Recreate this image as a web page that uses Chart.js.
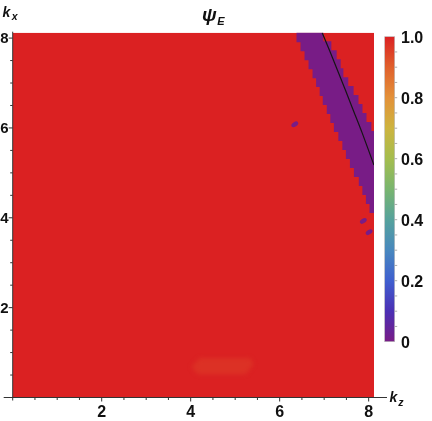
<!DOCTYPE html>
<html>
<head>
<meta charset="utf-8">
<script src="https://cdn.jsdelivr.net/npm/chart.js@4.4.1/dist/chart.umd.min.js"></script>
<style>
  html, body { margin: 0; padding: 0; background: #fff; }
  #wrap { width: 432px; height: 421px; }
</style>
</head>
<body>
<div id="wrap"><canvas id="psiChart" width="432" height="421"></canvas></div>
<script>
// rows of the kx grid (row centres, 0.2 wide) where psi_E drops to ~0
const bandKx = [8.02, 7.82, 7.62, 7.42, 7.22, 7.02, 6.82, 6.62, 6.42, 6.22,
                6.02, 5.82, 5.62, 5.42, 5.22, 5.02, 4.82, 4.62, 4.42, 4.22];
const bandKzFrom = [6.39, 6.48, 6.57, 6.66, 6.75, 6.83, 6.91, 6.98, 7.07, 7.15,
                    7.23, 7.33, 7.42, 7.50, 7.59, 7.68, 7.79, 7.87, 7.95, 8.03];
const bandKzTo = [6.97, 7.15, 7.27, 7.36, 7.42, 7.53, 7.65, 7.76, 7.85, 7.94,
                  8.05, 8.2, 8.2, 8.2, 8.2, 8.2, 8.2, 8.2, 8.2, 8.2];
const bandValue = 0;

// isolated spots with psi_E ~ 0
const spotKz = [6.34, 7.88, 8.01];
const spotKx = [6.08, 3.93, 3.68];

// faint patch a little below 1
const patchKz = [4.02, 5.42];
const patchKx = [0.52, 0.88];
const patchValue = 0.975;

// everything else
const fieldValue = 1;

// black curve
const curveKz = [6.955, 7.119, 7.299, 7.479, 7.636, 7.856, 8.119];
const curveKx = [8.12, 7.731, 7.286, 6.841, 6.440, 5.884, 5.173];

const axisMax = 8.12;
const axisTicks = [2, 4, 6, 8];
const minorStep = 0.5;

const barTicks = [0, 0.2, 0.4, 0.6, 0.8, 1.0];
const barTickLabels = ['0', '0.2', '0.4', '0.6', '0.8', '1.0'];
const barMinorStep = 0.05;

const rainbowAt = [0, 0.1, 0.2, 0.3, 0.4, 0.5, 0.6, 0.7, 0.8, 0.9, 1];
const rainbowHex = ['#781c86', '#4b2fb4', '#3f5fcf', '#4888be', '#56a29c', '#79b56f',
                    '#a4bd4e', '#cdb43f', '#e39139', '#e0602c', '#db2122'];

const hexRgb = h => [1, 3, 5].map(i => parseInt(h.slice(i, i + 2), 16));
const colorFor = v => {
  let i = 0;
  while (i < rainbowAt.length - 2 && v > rainbowAt[i + 1]) i++;
  const t = (v - rainbowAt[i]) / (rainbowAt[i + 1] - rainbowAt[i]);
  const a = hexRgb(rainbowHex[i]), b = hexRgb(rainbowHex[i + 1]);
  const c = a.map((x, k) => Math.round(x + (b[k] - x) * t));
  return `rgb(${c[0]},${c[1]},${c[2]})`;
};

const numFont = 'bold 16px "Liberation Sans", Arial, sans-serif';
const yNumFont = 'bold 15px "Liberation Sans", Arial, sans-serif';

const fieldPlugin = {
  id: 'field',
  beforeDatasetsDraw(chart) {
    const { ctx, chartArea } = chart;
    const { x, y } = chart.scales;
    ctx.save();
    ctx.beginPath();
    ctx.rect(chartArea.left, chartArea.top, chartArea.right - chartArea.left, chartArea.bottom - chartArea.top);
    ctx.clip();
    ctx.fillStyle = colorFor(fieldValue);
    ctx.fillRect(x.getPixelForValue(0), y.getPixelForValue(axisMax),
      x.getPixelForValue(axisMax) - x.getPixelForValue(0), y.getPixelForValue(0) - y.getPixelForValue(axisMax));

    // faint patch
    ctx.filter = 'blur(2px)';
    ctx.fillStyle = colorFor(patchValue);
    const px0 = x.getPixelForValue(patchKz[0]), px1 = x.getPixelForValue(patchKz[1]);
    const py0 = y.getPixelForValue(patchKx[1]), py1 = y.getPixelForValue(patchKx[0]);
    ctx.beginPath();
    ctx.moveTo(px0 + 8, py0);
    ctx.lineTo(px1 - 4, py0);
    ctx.lineTo(px1, py0 + 6);
    ctx.lineTo(px1 - 8, py1);
    ctx.lineTo(px0 + 6, py1);
    ctx.lineTo(px0, py0 + 9);
    ctx.closePath();
    ctx.fill();
    ctx.filter = 'none';

    // isolated spots
    ctx.fillStyle = colorFor(bandValue);
    spotKz.forEach((kz, i) => {
      ctx.beginPath();
      ctx.ellipse(x.getPixelForValue(kz), y.getPixelForValue(spotKx[i]), 3.8, 2.2, -0.6, 0, Math.PI * 2);
      ctx.fill();
    });
    ctx.restore();
  },
  afterDraw(chart) {
    const { ctx, chartArea } = chart;
    const { x, y } = chart.scales;
    const x0 = x.getPixelForValue(0), y0 = y.getPixelForValue(0);
    ctx.save();

    // axes
    ctx.strokeStyle = '#333';
    ctx.lineWidth = 1;
    ctx.beginPath();
    ctx.moveTo(x0 - 9, y0);
    ctx.lineTo(chartArea.right + 13, y0);
    ctx.moveTo(x0, chartArea.top - 1);
    ctx.lineTo(x0, y0 + 3);
    for (let v = minorStep; v <= axisMax; v += minorStep) {
      const major = axisTicks.includes(v);
      const len = major ? 4 : 2.5;
      const px = x.getPixelForValue(v), py = y.getPixelForValue(v);
      ctx.moveTo(px, y0);
      ctx.lineTo(px, y0 + len);
      ctx.moveTo(x0, py);
      ctx.lineTo(x0 - len, py);
    }
    ctx.stroke();

    ctx.fillStyle = '#111';
    ctx.font = numFont;
    ctx.textBaseline = 'alphabetic';
    x.ticks.forEach(t => {
      ctx.textAlign = 'center';
      ctx.fillText(String(t.value), x.getPixelForValue(t.value), y0 + 19.5);
    });
    ctx.font = yNumFont;
    y.ticks.forEach(t => {
      ctx.textAlign = 'right';
      ctx.fillText(String(t.value), x0 - 4, y.getPixelForValue(t.value) + 5.4);
    });

    // axis names
    ctx.textAlign = 'left';
    ctx.font = 'bold italic 14px "Liberation Sans", Arial, sans-serif';
    ctx.fillText('k', 2.5, 17);
    const kw = ctx.measureText('k').width;
    ctx.font = 'bold italic 10.5px "Liberation Sans", Arial, sans-serif';
    ctx.fillText('x', 2.5 + kw + 1.5, 19.5);
    ctx.font = 'bold italic 14px "Liberation Sans", Arial, sans-serif';
    ctx.fillText('k', 389.5, 402);
    ctx.font = 'bold italic 10.5px "Liberation Sans", Arial, sans-serif';
    ctx.fillText('z', 389.5 + kw + 1, 405.5);

    // title
    ctx.font = 'bold italic 19px "Liberation Sans", Arial, sans-serif';
    ctx.fillText('\u03c8', 202, 21);
    const pw = ctx.measureText('\u03c8').width;
    ctx.font = 'bold italic 11px "Liberation Sans", Arial, sans-serif';
    ctx.fillText('E', 202 + pw + 0.5, 24.5);

    // colour bar
    const bl = 384.7, br = 394.7, bt = 36.7, bb = 341.7;
    const grad = ctx.createLinearGradient(0, bb, 0, bt);
    rainbowAt.forEach((a, i) => grad.addColorStop(a, rainbowHex[i]));
    ctx.fillStyle = grad;
    ctx.fillRect(bl, bt, br - bl, bb - bt);
    ctx.strokeStyle = '#bbb';
    ctx.lineWidth = 0.6;
    ctx.strokeRect(bl, bt, br - bl, bb - bt);
    ctx.strokeStyle = '#999';
    ctx.lineWidth = 0.8;
    ctx.beginPath();
    for (let v = barMinorStep; v < 1 - 1e-6; v += barMinorStep) {
      const py = bb - (bb - bt) * v;
      ctx.moveTo(br, py);
      ctx.lineTo(br + 2.5, py);
    }
    ctx.stroke();
    ctx.fillStyle = '#111';
    ctx.font = numFont;
    ctx.textAlign = 'left';
    barTicks.forEach((v, i) => {
      const py = bb - (bb - bt) * v;
      ctx.fillText(barTickLabels[i], 401, py + 5.8);
    });
    ctx.restore();
  }
};

const tickSetter = scale => { scale.ticks = axisTicks.map(v => ({ value: v })); };

new Chart(document.getElementById('psiChart'), {
  type: 'scatter',
  data: {
    datasets: [
      {
        type: 'scatter',
        label: 'curve',
        data: curveKz.map((kz, i) => ({ x: kz, y: curveKx[i] })),
        showLine: true,
        borderColor: '#151515',
        borderWidth: 1.2,
        pointRadius: 0,
        tension: 0.3,
        order: 0
      },
      {
        type: 'bar',
        label: 'psi_E = 0',
        indexAxis: 'y',
        data: bandKx.map((kx, i) => ({ y: kx, x: [bandKzFrom[i], bandKzTo[i]] })),
        backgroundColor: colorFor(bandValue),
        borderWidth: 0,
        barPercentage: 1,
        categoryPercentage: 1,
        inflateAmount: 0.5,
        order: 1
      }
    ]
  },
  options: {
    responsive: false,
    animation: false,
    devicePixelRatio: 1,
    layout: { padding: { left: 12.7, top: 32.7, right: 58, bottom: 23.5 } },
    plugins: { legend: { display: false }, tooltip: { enabled: false } },
    scales: {
      x: { type: 'linear', min: 0, max: axisMax, offset: false, display: false, afterBuildTicks: tickSetter },
      y: { type: 'linear', min: 0, max: axisMax, offset: false, display: false, afterBuildTicks: tickSetter }
    }
  },
  plugins: [fieldPlugin]
});
</script>
</body>
</html>
